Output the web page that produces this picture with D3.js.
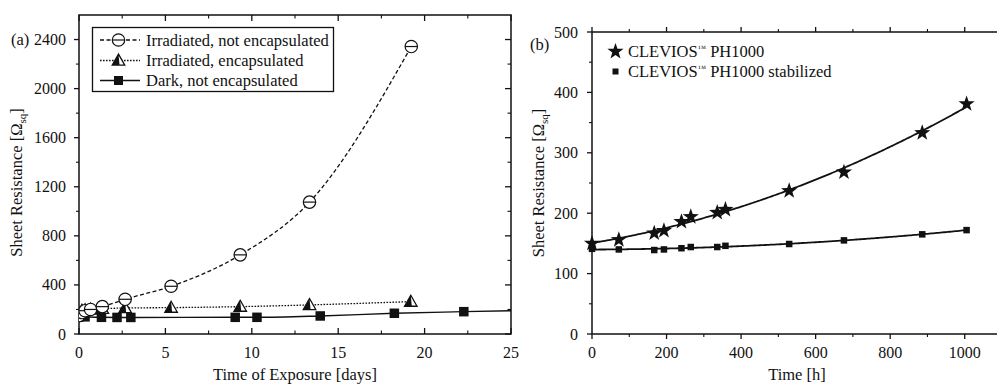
<!DOCTYPE html>
<html>
<head>
<meta charset="utf-8">
<script src="https://cdn.jsdelivr.net/npm/d3@7/dist/d3.min.js"></script>
<style>
  html, body { margin: 0; padding: 0; background: #fff; }
  svg { display: block; }
  text { font-family: "Liberation Serif", "DejaVu Serif", serif; fill: #111; }
</style>
</head>
<body>
<svg id="chart" width="997" height="385"></svg>
<script>
// ---------- Panel (a): sheet resistance vs. exposure time (days) ----------
const aIrrNotEncDays = [0, 0.17, 0.35, 0.67, 1.35, 2.67, 5.33, 9.33, 13.34, 19.23];
const aIrrNotEncVals = [150, 175, 190, 200, 223, 283, 389, 645, 1075, 2343];

const aIrrEncDays = [0, 0.17, 0.35, 0.67, 1.35, 2.67, 5.33, 9.33, 13.34, 19.2];
const aIrrEncVals = [165, 190, 195, 200, 205, 212, 215, 223, 237, 264];

const aDarkDays = [0, 0.12, 0.35, 1.3, 2.2, 3.0, 9.04, 10.3, 13.96, 18.25, 22.27, 26];
const aDarkVals = [140, 145, 140, 136, 135, 135, 136, 136, 147, 169, 182, 192];

const aXTicks = [0, 5, 10, 15, 20, 25];
const aYTicks = [0, 400, 800, 1200, 1600, 2000, 2400];
const aLegend = ["Irradiated, not encapsulated", "Irradiated, encapsulated", "Dark, not encapsulated"];

// ---------- Panel (b): sheet resistance vs. time (hours) ----------
const bHours = [0, 72, 167, 193, 240, 265, 336, 358, 529, 676, 886, 1005];
const bPH1000 = [150, 156, 167, 171, 186, 194, 201, 206, 237, 268, 333, 381];
const bStabilized = [141, 140, 139, 140, 142, 144, 144, 146, 149, 155, 165, 172];

const bXTicks = [0, 200, 400, 600, 800, 1000];
const bYTicks = [0, 100, 200, 300, 400, 500];
const bLegend = ["PH1000", "PH1000 stabilized"];

const svg = d3.select("#chart");
const ink = "#111";

// ---------- helpers ----------
function starPath(R) {
  const r = R * 0.40, pts = [];
  for (let i = 0; i < 10; i++) {
    const a = -Math.PI / 2 + i * Math.PI / 5;
    const rad = i % 2 === 0 ? R : r;
    pts.push([rad * Math.cos(a), rad * Math.sin(a)]);
  }
  return "M" + pts.map(p => p.join(",")).join("L") + "Z";
}

function drawCircleMarker(g, cx, cy) {
  const r = 6.2;
  g.append("circle").attr("cx", cx).attr("cy", cy).attr("r", r)
    .attr("fill", "#fff").attr("stroke", ink).attr("stroke-width", 1.2);
  g.append("line").attr("x1", cx - r).attr("x2", cx + r).attr("y1", cy).attr("y2", cy)
    .attr("stroke", ink).attr("stroke-width", 1.2);
}

function drawTriangleMarker(g, cx, cy) {
  const h = 11, w = 12.5;
  const top = [cx, cy - h * 0.58], bl = [cx - w / 2, cy + h * 0.42], br = [cx + w / 2, cy + h * 0.42];
  g.append("path").attr("d", `M${top}L${br}L${bl}Z`)
    .attr("fill", "#fff").attr("stroke", ink).attr("stroke-width", 1.3);
  g.append("path").attr("d", `M${top}L${[cx + 1, bl[1]]}L${bl}Z`).attr("fill", ink);
}

function drawSquareMarker(g, cx, cy, s) {
  g.append("rect").attr("x", cx - s / 2).attr("y", cy - s / 2)
    .attr("width", s).attr("height", s).attr("fill", ink);
}

// Least-squares quadratic fit of y on x
function quadFit(xs, ys) {
  let S = [0, 0, 0, 0, 0], T = [0, 0, 0];
  xs.forEach((x, i) => {
    for (let k = 0; k < 5; k++) S[k] += Math.pow(x, k);
    for (let k = 0; k < 3; k++) T[k] += ys[i] * Math.pow(x, k);
  });
  const M = [[S[0], S[1], S[2], T[0]], [S[1], S[2], S[3], T[1]], [S[2], S[3], S[4], T[2]]];
  for (let c = 0; c < 3; c++) {
    for (let r = c + 1; r < 3; r++) {
      const f = M[r][c] / M[c][c];
      for (let k = c; k < 4; k++) M[r][k] -= f * M[c][k];
    }
  }
  const coef = [0, 0, 0];
  for (let r = 2; r >= 0; r--) {
    let s = M[r][3];
    for (let k = r + 1; k < 3; k++) s -= M[r][k] * coef[k];
    coef[r] = s / M[r][r];
  }
  return x => coef[0] + coef[1] * x + coef[2] * x * x;
}

const tickFont = 16;
const labelFont = 16.5;

// =====================================================================
// Panel (a)
// =====================================================================
const A = { left: 79, right: 511, top: 15, bottom: 334 };
const xa = d3.scaleLinear().domain([0, 25]).range([A.left, A.right]);
const ya = d3.scaleLinear().domain([0, 2600]).range([A.bottom, A.top]);
const ga = svg.append("g");

ga.append("clipPath").attr("id", "clipA").append("rect")
  .attr("x", A.left).attr("y", A.top).attr("width", A.right - A.left).attr("height", A.bottom - A.top);

// frame
ga.append("rect").attr("x", A.left).attr("y", A.top)
  .attr("width", A.right - A.left).attr("height", A.bottom - A.top)
  .attr("fill", "none").attr("stroke", ink).attr("stroke-width", 1.5);

// ticks: left outward, other sides inward
const aXMinor = d3.range(2.5, 25, 5);
const aYMinor = d3.range(200, 2600, 400);
aXTicks.forEach(v => {
  ga.append("line").attr("x1", xa(v)).attr("x2", xa(v)).attr("y1", A.bottom).attr("y2", A.bottom - 6).attr("stroke", ink).attr("stroke-width", 1.3);
  ga.append("line").attr("x1", xa(v)).attr("x2", xa(v)).attr("y1", A.top).attr("y2", A.top + 6).attr("stroke", ink).attr("stroke-width", 1.3);
  ga.append("text").attr("x", xa(v)).attr("y", 358).attr("text-anchor", "middle")
    .attr("font-size", tickFont).text(v);
});
aXMinor.forEach(v => {
  ga.append("line").attr("x1", xa(v)).attr("x2", xa(v)).attr("y1", A.bottom).attr("y2", A.bottom - 3.5).attr("stroke", ink).attr("stroke-width", 1.1);
  ga.append("line").attr("x1", xa(v)).attr("x2", xa(v)).attr("y1", A.top).attr("y2", A.top + 3.5).attr("stroke", ink).attr("stroke-width", 1.1);
});
aYTicks.forEach(v => {
  ga.append("line").attr("x1", A.left - 5).attr("x2", A.left).attr("y1", ya(v)).attr("y2", ya(v)).attr("stroke", ink).attr("stroke-width", 1.3);
  ga.append("line").attr("x1", A.right - 6).attr("x2", A.right).attr("y1", ya(v)).attr("y2", ya(v)).attr("stroke", ink).attr("stroke-width", 1.3);
  ga.append("text").attr("x", 66).attr("y", ya(v) + 5.5).attr("text-anchor", "end")
    .attr("font-size", tickFont).text(v);
});
aYMinor.forEach(v => {
  ga.append("line").attr("x1", A.left - 3).attr("x2", A.left).attr("y1", ya(v)).attr("y2", ya(v)).attr("stroke", ink).attr("stroke-width", 1.1);
  ga.append("line").attr("x1", A.right - 3.5).attr("x2", A.right).attr("y1", ya(v)).attr("y2", ya(v)).attr("stroke", ink).attr("stroke-width", 1.1);
});

// series lines
const lineA = (days, vals) => d3.line().curve(d3.curveMonotoneX)
  .x((d, i) => xa(days[i])).y((d, i) => ya(vals[i]))(vals);
const plotA = ga.append("g").attr("clip-path", "url(#clipA)");
plotA.append("path").attr("d", lineA(aDarkDays, aDarkVals))
  .attr("fill", "none").attr("stroke", ink).attr("stroke-width", 1.4);
plotA.append("path").attr("d", lineA(aIrrEncDays, aIrrEncVals))
  .attr("fill", "none").attr("stroke", ink).attr("stroke-width", 1.3).attr("stroke-dasharray", "1.6,1.4");
plotA.append("path").attr("d", lineA(aIrrNotEncDays, aIrrNotEncVals))
  .attr("fill", "none").attr("stroke", ink).attr("stroke-width", 1.3).attr("stroke-dasharray", "4,2.5");

// markers
aDarkDays.forEach((d, i) => drawSquareMarker(plotA, xa(d), ya(aDarkVals[i]), 9.5));
aIrrEncDays.forEach((d, i) => drawTriangleMarker(plotA, xa(d), ya(aIrrEncVals[i])));
aIrrNotEncDays.forEach((d, i) => drawCircleMarker(plotA, xa(d), ya(aIrrNotEncVals[i])));

// legend
const la = ga.append("g");
la.append("rect").attr("x", 92.5).attr("y", 27.5).attr("width", 241).attr("height", 64)
  .attr("fill", "#fff").attr("stroke", ink).attr("stroke-width", 1.3);
const legRows = [40, 60.5, 80.5];
const legDash = ["4,2.5", "1.6,1.4", null];
legRows.forEach((ry, i) => {
  const ln = la.append("line").attr("x1", 100).attr("x2", 140).attr("y1", ry).attr("y2", ry)
    .attr("stroke", ink).attr("stroke-width", i === 2 ? 1.6 : 1.3);
  if (legDash[i]) ln.attr("stroke-dasharray", legDash[i]);
  if (i === 0) drawCircleMarker(la, 118.5, ry);
  if (i === 1) drawTriangleMarker(la, 118.5, ry);
  if (i === 2) drawSquareMarker(la, 118.5, ry, 9);
  la.append("text").attr("x", 146).attr("y", ry + 5.5).attr("font-size", labelFont).text(aLegend[i]);
});

ga.append("text").attr("x", 11).attr("y", 45).attr("font-size", labelFont).text("(a)");

ga.append("text").attr("x", (A.left + A.right) / 2).attr("y", 380).attr("text-anchor", "middle")
  .attr("font-size", labelFont).text("Time of Exposure [days]");

const yLabA = ga.append("text").attr("transform", `translate(22,${(A.top + A.bottom) / 2 + 8}) rotate(-90)`)
  .attr("text-anchor", "middle").attr("font-size", labelFont);
yLabA.append("tspan").text("Sheet Resistance [Ω");
yLabA.append("tspan").attr("font-size", 11).attr("dy", 4).text("sq");
yLabA.append("tspan").attr("dy", -4).text("]");

// =====================================================================
// Panel (b)
// =====================================================================
const B = { left: 592, right: 1002, top: 32, bottom: 334 };
const xb = d3.scaleLinear().domain([0, 1100]).range([B.left, B.right]);
const yb = d3.scaleLinear().domain([0, 500]).range([B.bottom, B.top]);
const gb = svg.append("g");

gb.append("rect").attr("x", B.left).attr("y", B.top)
  .attr("width", B.right - B.left).attr("height", B.bottom - B.top)
  .attr("fill", "none").attr("stroke", ink).attr("stroke-width", 1.5);

// outward ticks
const bXMinor = d3.range(100, 1100, 200);
const bYMinor = d3.range(50, 500, 100);
bXTicks.forEach(v => {
  gb.append("line").attr("x1", xb(v)).attr("x2", xb(v)).attr("y1", B.bottom).attr("y2", B.bottom + 5).attr("stroke", ink).attr("stroke-width", 1.3);
  gb.append("line").attr("x1", xb(v)).attr("x2", xb(v)).attr("y1", B.top).attr("y2", B.top - 5).attr("stroke", ink).attr("stroke-width", 1.3);
  gb.append("text").attr("x", xb(v)).attr("y", 358).attr("text-anchor", "middle")
    .attr("font-size", tickFont).text(v);
});
bXMinor.forEach(v => {
  gb.append("line").attr("x1", xb(v)).attr("x2", xb(v)).attr("y1", B.bottom).attr("y2", B.bottom + 3).attr("stroke", ink).attr("stroke-width", 1.1);
  gb.append("line").attr("x1", xb(v)).attr("x2", xb(v)).attr("y1", B.top).attr("y2", B.top - 3).attr("stroke", ink).attr("stroke-width", 1.1);
});
bYTicks.forEach(v => {
  gb.append("line").attr("x1", B.left - 5).attr("x2", B.left).attr("y1", yb(v)).attr("y2", yb(v)).attr("stroke", ink).attr("stroke-width", 1.3);
  gb.append("text").attr("x", 578).attr("y", yb(v) + 5.5).attr("text-anchor", "end")
    .attr("font-size", tickFont).text(v);
});
bYMinor.forEach(v => {
  gb.append("line").attr("x1", B.left - 3).attr("x2", B.left).attr("y1", yb(v)).attr("y2", yb(v)).attr("stroke", ink).attr("stroke-width", 1.1);
});

// quadratic fit curves
const fitStar = quadFit(bHours, bPH1000);
const fitSq = quadFit(bHours, bStabilized);
const hGrid = d3.range(0, 1006, 5);
const fitLine = f => d3.line().x(h => xb(h)).y(h => yb(f(h)))(hGrid);
gb.append("path").attr("d", fitLine(fitStar)).attr("fill", "none").attr("stroke", ink).attr("stroke-width", 1.8);
gb.append("path").attr("d", fitLine(fitSq)).attr("fill", "none").attr("stroke", ink).attr("stroke-width", 1.8);

// markers
bHours.forEach((h, i) => {
  gb.append("path").attr("d", starPath(8.5)).attr("transform", `translate(${xb(h)},${yb(bPH1000[i])})`).attr("fill", ink);
  drawSquareMarker(gb, xb(h), yb(bStabilized[i]), 6.5);
});

// legend
gb.append("path").attr("d", starPath(8.5)).attr("transform", "translate(615.5,51.5)").attr("fill", ink);
drawSquareMarker(gb, 615.5, 71.5, 6);
[57, 77].forEach((ry, i) => {
  const t = gb.append("text").attr("x", 628).attr("y", ry).attr("font-size", labelFont);
  t.append("tspan").text("CLEVIOS");
  t.append("tspan").attr("font-size", 8.5).attr("dy", -6).text("™");
  t.append("tspan").attr("dy", 6).text(" " + bLegend[i]);
});

gb.append("text").attr("x", 530).attr("y", 50).attr("font-size", labelFont).text("(b)");

gb.append("text").attr("x", (B.left + B.right) / 2).attr("y", 380).attr("text-anchor", "middle")
  .attr("font-size", labelFont).text("Time [h]");

const yLabB = gb.append("text").attr("transform", `translate(544,${(B.top + B.bottom) / 2}) rotate(-90)`)
  .attr("text-anchor", "middle").attr("font-size", labelFont);
yLabB.append("tspan").text("Sheet Resistance [Ω");
yLabB.append("tspan").attr("font-size", 11).attr("dy", 4).text("sq");
yLabB.append("tspan").attr("dy", -4).text("]");
</script>
</body>
</html>
